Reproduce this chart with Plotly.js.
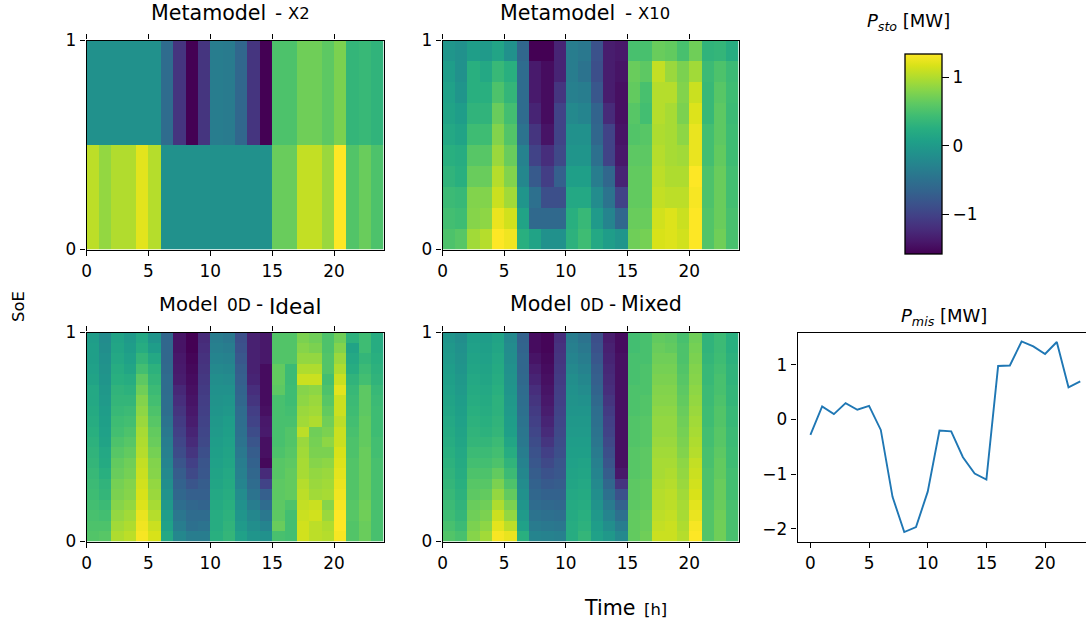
<!DOCTYPE html>
<html><head><meta charset="utf-8">
<script src="https://cdn.plot.ly/plotly-3.0.1.min.js"></script>
<style>html,body{margin:0;padding:0;background:#fff;overflow:hidden}</style>
</head><body><div id="chart" style="width:1086px;height:626px"></div>
<script>
// Psto [MW], rows from SoE=1 down to SoE=0, one value per hour
const x2Rows = [
 [-.12,-.12,-.12,-.12,-.12,-.12,-.56,-1.14,-1.58,-1.14,-.35,-.38,-.62,-1.14,-1.58,.52,.52,.70,.70,.61,.76,.35,.38,.32],
 [1.05,.87,1.0,1.0,1.22,1.02,-.12,-.12,-.12,-.12,-.12,-.12,-.12,-.12,-.12,.67,.67,1.08,1.08,.9,1.34,.55,.67,.52]
];
const x10Rows = [
 [-.05,-.12,.05,0,.12,-.12,-.62,-1.58,-1.58,-1.29,-.35,-.41,-.85,-1.35,-1.4,.49,.49,.67,.64,.49,.7,.32,.35,.23],
 [.03,-.12,.26,.17,.38,.26,-.56,-1.38,-1.49,-1.29,-.35,-.47,-.88,-1.35,-1.43,.67,.61,1.08,.9,.76,.93,.41,.52,.41],
 [.08,-.06,.26,.26,.52,.35,-.56,-1.38,-1.49,-1.14,-.32,-.35,-.79,-1.35,-1.46,.64,.49,1.02,1.02,.79,1.11,.38,.58,.43],
 [.11,.03,.32,.32,.67,.46,-.56,-1.29,-1.49,-1.0,-.21,-.27,-.65,-1.23,-1.46,.58,.46,1.02,.96,.76,1.19,.38,.61,.41],
 [.17,.11,.43,.43,.79,.55,-.47,-1.14,-1.43,-1.0,-.12,-.12,-.62,-1.0,-1.43,.55,.58,.99,.96,.84,1.25,.46,.61,.43],
 [.26,.23,.58,.58,.9,.67,-.3,-1.0,-1.2,-.94,-.06,-.06,-.5,-1.0,-1.4,.61,.61,1.02,.96,.93,1.25,.46,.64,.43],
 [.32,.26,.67,.67,1.02,.79,-.24,-.76,-1.05,-.7,.06,.06,-.35,-.62,-1.29,.64,.64,1.05,.99,.99,1.34,.52,.67,.46],
 [.41,.38,.79,.79,1.11,.93,-.06,-.5,-.88,-.88,.17,.17,-.18,-.47,-1.0,.64,.64,1.08,1.05,1.05,1.31,.52,.67,.46],
 [.46,.43,.81,.84,1.25,1.14,.11,-.59,-.59,-.59,.26,.38,0,-.27,-.62,.67,.67,1.14,1.19,1.11,1.34,.55,.67,.49],
 [.52,.58,.93,1.02,1.34,1.28,.26,.11,-.12,-.12,.29,.43,.17,.03,-.06,.7,.73,1.17,1.19,1.14,1.34,.55,.7,.49]
];
// Columns (one per hour), values from SoE=1 down to SoE=0
const idealCols = [
 [.03,.06,.06,.08,.11,.17,.17,.20,.23,.26,.29,.32,.35,.38,.41,.43,.46,.49,.52,.55],
 [-.18,-.15,-.12,-.09,-.06,-.03,0,.03,.06,.08,.11,.17,.20,.26,.32,.35,.41,.46,.52,.58],
 [.11,.14,.17,.23,.26,.32,.35,.38,.43,.46,.52,.58,.64,.67,.73,.76,.81,.87,.93,.99],
 [0,.03,.08,.14,.23,.29,.35,.41,.46,.52,.58,.64,.70,.73,.79,.81,.87,.93,.99,1.05],
 [.17,.23,.35,.46,.61,.70,.79,.84,.90,.96,.99,1.02,1.08,1.11,1.14,1.17,1.19,1.25,1.28,1.31],
 [-.06,.03,.17,.29,.35,.41,.46,.52,.58,.64,.67,.73,.79,.81,.87,.90,.96,1.02,1.11,1.17],
 [-.62,-.62,-.62,-.59,-.56,-.56,-.53,-.53,-.47,-.41,-.35,-.32,-.27,-.21,-.15,-.09,-.03,.03,.08,.17],
 [-1.43,-1.43,-1.40,-1.38,-1.35,-1.26,-1.20,-1.14,-1.08,-1.03,-.97,-.91,-.82,-.73,-.67,-.62,-.53,-.44,-.35,-.24],
 [-1.58,-1.58,-1.55,-1.52,-1.49,-1.46,-1.43,-1.40,-1.35,-1.29,-1.23,-1.14,-1.03,-.94,-.82,-.70,-.62,-.56,-.50,-.35],
 [-1.23,-1.20,-1.17,-1.14,-1.11,-1.08,-1.05,-1.03,-1.0,-.97,-.94,-.88,-.82,-.79,-.73,-.70,-.65,-.56,-.47,-.35],
 [-.35,-.32,-.27,-.21,-.15,-.12,-.09,-.06,-.03,0,.03,.06,.08,.11,.14,.17,.20,.23,.23,.26],
 [-.41,-.35,-.30,-.24,-.18,-.12,-.06,-.03,.03,.06,.08,.11,.14,.17,.20,.23,.26,.29,.32,.35],
 [-.88,-.85,-.79,-.73,-.70,-.65,-.62,-.56,-.53,-.50,-.47,-.41,-.35,-.32,-.27,-.18,-.12,-.06,0,.08],
 [-1.32,-1.32,-1.32,-1.32,-1.29,-1.20,-1.14,-1.05,-1.0,-.91,-.82,-.73,-.67,-.62,-.56,-.47,-.35,-.24,-.15,-.06],
 [-1.40,-1.40,-1.40,-1.49,-1.49,-1.49,-1.49,-1.46,-1.40,-1.38,-1.46,-1.46,-1.52,-1.23,-1.0,-.70,-.56,-.41,-.27,-.12],
 [.55,.55,.55,.64,.64,.61,.49,.49,.49,.49,.49,.52,.58,.58,.61,.61,.61,.61,.67,.49],
 [.55,.55,.55,.41,.41,.43,.43,.46,.49,.55,.55,.58,.61,.64,.64,.64,.52,.46,.46,.46],
 [.76,.81,.87,.99,1.11,.81,.84,.90,.93,1.05,.90,.93,.96,.96,1.02,1.05,1.08,1.11,1.14,1.14],
 [.70,.76,.87,.99,1.11,.84,.90,.93,.99,.70,.73,.76,.81,.87,.90,.93,1.11,1.14,1.05,1.05],
 [.52,.52,.55,.55,.46,.52,.58,.64,.70,.76,.84,.76,.84,.90,.93,.96,.81,.90,.99,1.02],
 [.70,.79,.90,.99,1.11,1.22,1.11,1.11,1.05,1.11,1.11,1.17,1.19,1.22,1.25,1.28,1.31,1.34,1.34,1.31],
 [.29,.11,.17,.23,.32,.38,.41,.43,.46,.49,.52,.52,.55,.55,.55,.55,.58,.58,.55,.55],
 [.43,.43,.35,.41,.46,.61,.61,.61,.64,.64,.64,.67,.67,.67,.67,.67,.70,.70,.67,.67],
 [.23,.23,.26,.29,.32,.38,.41,.43,.43,.43,.46,.46,.49,.49,.49,.49,.49,.49,.49,.49]
];
const mixedCols = [
 [-.06,-.03,0,.03,.06,.08,.11,.14,.17,.20,.23,.26,.29,.32,.35,.38,.41,.43,.49,.55],
 [-.15,-.12,-.09,-.06,-.03,0,.03,.06,.08,.11,.14,.17,.20,.23,.26,.29,.32,.35,.41,.49],
 [.06,.08,.11,.14,.17,.20,.23,.26,.29,.32,.35,.41,.46,.52,.58,.61,.67,.70,.76,.81],
 [.03,.06,.08,.11,.14,.17,.20,.23,.26,.29,.35,.41,.46,.52,.58,.64,.70,.76,.84,.93],
 [.11,.14,.17,.20,.23,.26,.29,.29,.32,.35,.41,.46,.52,.64,.76,.87,.99,1.11,1.22,1.31],
 [-.21,-.18,-.15,-.12,-.09,-.06,-.03,0,.03,.06,.14,.23,.32,.41,.52,.64,.76,.87,1.05,1.25],
 [-.67,-.65,-.62,-.62,-.59,-.56,-.53,-.50,-.47,-.44,-.41,-.35,-.30,-.24,-.18,-.12,-.06,0,.08,.26],
 [-1.49,-1.49,-1.43,-1.35,-1.29,-1.20,-1.14,-1.08,-1.03,-.97,-.91,-.85,-.79,-.73,-.67,-.62,-.56,-.47,-.38,-.27],
 [-1.55,-1.55,-1.52,-1.49,-1.46,-1.43,-1.40,-1.35,-1.29,-1.23,-1.14,-1.03,-.94,-.85,-.76,-.67,-.59,-.50,-.41,-.30],
 [-1.20,-1.17,-1.14,-1.11,-1.08,-1.05,-1.03,-1.0,-.97,-.94,-.91,-.88,-.82,-.79,-.73,-.67,-.62,-.53,-.44,-.32],
 [-.35,-.32,-.27,-.21,-.15,-.12,-.09,-.06,-.03,0,.03,.06,.08,.11,.14,.17,.20,.20,.23,.23],
 [-.47,-.41,-.35,-.30,-.24,-.18,-.12,-.06,-.03,0,.03,.06,.11,.14,.17,.20,.23,.26,.29,.35],
 [-.88,-.85,-.79,-.73,-.70,-.65,-.59,-.53,-.50,-.47,-.44,-.38,-.32,-.27,-.21,-.15,-.09,-.03,.03,.08],
 [-1.35,-1.32,-1.29,-1.26,-1.23,-1.20,-1.14,-1.08,-1.03,-1.0,-.94,-.88,-.82,-.73,-.62,-.50,-.38,-.27,-.15,-.03],
 [-1.49,-1.49,-1.46,-1.46,-1.46,-1.46,-1.46,-1.46,-1.46,-1.46,-1.46,-1.46,-1.46,-1.40,-1.14,-.85,-.67,-.50,-.35,-.21],
 [.46,.46,.49,.49,.49,.52,.52,.52,.55,.55,.55,.58,.58,.58,.61,.61,.61,.64,.64,.64],
 [.49,.49,.49,.52,.52,.52,.55,.55,.58,.58,.58,.61,.61,.61,.64,.64,.64,.67,.67,.70],
 [.64,.67,.70,.73,.76,.79,.81,.84,.87,.87,.90,.93,.96,.96,.99,1.02,1.02,1.05,1.08,1.11],
 [.61,.64,.70,.73,.76,.79,.81,.84,.87,.87,.90,.93,.96,.99,1.02,1.05,1.05,1.08,1.11,1.11],
 [.49,.52,.52,.55,.58,.61,.64,.67,.70,.73,.76,.79,.84,.87,.90,.93,.96,.96,.99,1.02],
 [.70,.73,.76,.79,.81,.84,.87,.90,.93,.96,.99,1.02,1.08,1.11,1.14,1.17,1.22,1.25,1.31,1.34],
 [.32,.32,.35,.38,.38,.41,.41,.43,.43,.46,.46,.49,.49,.52,.52,.52,.55,.55,.55,.55],
 [.41,.41,.43,.46,.49,.49,.52,.55,.55,.58,.58,.61,.64,.64,.67,.67,.67,.70,.70,.70],
 [.26,.26,.29,.32,.32,.35,.35,.38,.38,.41,.41,.43,.43,.46,.46,.46,.49,.49,.49,.49]
];
const hours = [0,1,2,3,4,5,6,7,8,9,10,11,12,13,14,15,16,17,18,19,20,21,22,23];
const pMis = [-.28,.24,.10,.30,.18,.25,-.19,-1.415,-2.06,-1.97,-1.32,-.20,-.215,-.69,-.99,-1.10,.98,.99,1.43,1.34,1.20,1.42,.59,.70];
const heatTicks = [0,5,10,15,20];
const socTicks = [0,1];
const lineYTicks = [-2,-1,0,1];
const barTicks = [-1,0,1];
const zMin = -1.58, zMax = 1.34;

const W = 1086, H = 626, FONT = '"DejaVu Sans", sans-serif';
const transpose = m => m[0].map((_, i) => m.map(c => c[i]));
const flip = rows => rows.slice().reverse();   // top-first -> bottom-first
const panels = [
  {z: flip(x2Rows), ax: '',  top: '6', px: [86.5, 383.5], py: [40.5, 249.5]},
  {z: flip(x10Rows), ax: '2', top: '7', px: [442.5, 738.5], py: [40.5, 249.5]},
  {z: flip(transpose(idealCols)), ax: '3', top: '8', px: [86.5, 383.5], py: [332.5, 541.5]},
  {z: flip(transpose(mixedCols)), ax: '4', top: '9', px: [442.5, 738.5], py: [332.5, 541.5]}
];
const dx = p => [p[0] / W, p[1] / W];
const dy = p => [1 - p[1] / H, 1 - p[0] / H];
const tick = {family: FONT, size: 16.9, color: '#000'};
const axBase = {ticks: 'outside', ticklen: 5.7, tickwidth: 1.3, tickcolor: '#000', showline: true,
  linecolor: '#000', linewidth: 1.3, showgrid: false, zeroline: false, tickfont: tick};

const data = [], layout = {
  width: W, height: H, margin: {l: 0, r: 0, t: 0, b: 0}, paper_bgcolor: '#fff', plot_bgcolor: 'rgba(0,0,0,0)',
  showlegend: false, font: {family: FONT, color: '#000'},
  coloraxis: {cmin: zMin, cmax: zMax, colorscale: 'Viridis',
    colorbar: {x: 905 / W, xanchor: 'left', thickness: 37, thicknessmode: 'pixels', len: 200, lenmode: 'pixels',
      y: 1 - 254 / H, yanchor: 'bottom', xpad: 0, ypad: 0, outlinewidth: 1.3, outlinecolor: '#000',
      tickmode: 'array', tickvals: barTicks, ticks: 'outside', ticklen: 7, tickwidth: 1.3, tickcolor: '#000',
      tickfont: tick}}
};
panels.forEach(p => {
  data.push({type: 'heatmap', z: p.z, x0: 0.5, dx: 1, y0: 0.5 / p.z.length, dy: 1 / p.z.length,
    coloraxis: 'coloraxis', xaxis: 'x' + p.ax, yaxis: 'y' + p.ax, hoverinfo: 'skip', zsmooth: false});
  layout['xaxis' + p.ax] = {...axBase, domain: dx(p.px), anchor: 'y' + p.ax, range: [0, 24], tickmode: 'array',
    tickvals: heatTicks, mirror: true};
  layout['yaxis' + p.ax] = {...axBase, domain: dy(p.py), anchor: 'x' + p.ax, range: [0, 1], tickmode: 'array',
    tickvals: socTicks, mirror: true};
  // top tick marks: a label-less axis on the top side, in its own empty subplot over the panel
  data.push({type: 'scatter', mode: 'none', x: heatTicks, y: heatTicks.map(() => 0), xaxis: 'x' + p.top, yaxis: 'y' + p.top,
    hoverinfo: 'skip', showlegend: false});
  layout['xaxis' + p.top] = {...axBase, domain: dx(p.px), anchor: 'y' + p.top, side: 'top',
    range: [0, 24], tickmode: 'array', tickvals: heatTicks, showticklabels: false};
  layout['yaxis' + p.top] = {domain: dy(p.py), anchor: 'x' + p.top, range: [0, 1], visible: false};
});
data.push({type: 'scatter', mode: 'lines', x: hours, y: pMis, xaxis: 'x5', yaxis: 'y5',
  line: {color: '#1f77b4', width: 1.9}, hoverinfo: 'skip'});
layout.xaxis5 = {...axBase, domain: dx([797.5, 1086]), anchor: 'y5', range: [-1.1, 23.49], tickmode: 'array',
  tickvals: heatTicks, mirror: true};
layout.yaxis5 = {...axBase, domain: dy([332.5, 541.5]), anchor: 'x5', range: [-2.233, 1.594], tickmode: 'array',
  tickvals: lineYTicks};

// text fragments: [text, left px, baseline px, font size]
const texts = [
  ['Metamodel', 151, 20, 20.6], ['-', 275, 20, 20], ['X2', 288, 19, 16.4],
  ['Metamodel', 500, 20, 20.6], ['-', 625, 20, 20], ['X10', 638, 19, 16.4],
  ['Model', 159, 311, 19.6], ['0D', 227, 311, 17], ['-', 256, 311, 20], ['Ideal', 269, 314, 21.6],
  ['Model', 510, 311, 20.6], ['0D', 580, 311, 17], ['-', 609, 311, 20], ['Mixed', 621, 311, 20.6],
  ['Time', 584, 615, 20.6], ['[h]', 644, 615, 16.4],
  ['<i>P</i><sub><i>sto</i></sub> [MW]', 867, 30, 18],
  ['<i>P</i><sub><i>mis</i></sub> [MW]', 901, 325, 18]
];
layout.annotations = texts.map(t => ({
  text: t[0], x: t[1] / W, y: 1 - t[2] / H, xref: 'paper', yref: 'paper', xanchor: 'left', yanchor: 'bottom',
  showarrow: false, borderpad: 0, borderwidth: 0, yshift: -t[3] * 0.24, font: {family: FONT, size: t[3], color: '#000'}
}));
layout.annotations.push({text: 'SoE', x: 18 / W, y: 1 - 307 / H, xref: 'paper', yref: 'paper', xanchor: 'center',
  yanchor: 'middle', showarrow: false, textangle: -90, font: {family: FONT, size: 16.4, color: '#000'}});

Plotly.newPlot('chart', data, layout, {displayModeBar: false, responsive: false});
</script></body></html>
